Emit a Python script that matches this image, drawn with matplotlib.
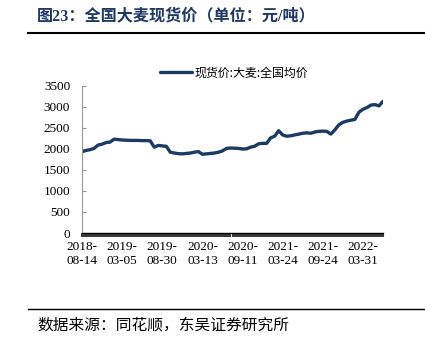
import matplotlib
matplotlib.use("Agg")
import matplotlib.pyplot as plt
from matplotlib.lines import Line2D
from matplotlib.ticker import MultipleLocator

title = "图23：全国大麦现货价（单位：元/吨）"
source = "数据来源：同花顺，东吴证券研究所"
series_name = "现货价:大麦:全国均价"

tick_labels = ["2018-\n08-14", "2019-\n03-05", "2019-\n08-30", "2020-\n03-13",
               "2020-\n09-11", "2021-\n03-24", "2021-\n09-24", "2022-\n03-31"]

prices = [1930, 1960, 1980, 2010, 2090, 2110, 2150, 2160, 2230, 2220,
          2210, 2205, 2200, 2200, 2200, 2195, 2195, 2190, 2040, 2080,
          2070, 2060, 1920, 1900, 1885, 1880, 1890, 1900, 1920, 1935,
          1870, 1880, 1890, 1900, 1920, 1950, 2010, 2020, 2015, 2010,
          1995, 2000, 2040, 2060, 2120, 2130, 2130, 2260, 2300, 2430,
          2330, 2300, 2310, 2330, 2350, 2370, 2380, 2370, 2400, 2415,
          2420, 2415, 2350, 2450, 2570, 2630, 2660, 2680, 2700, 2870,
          2940, 2980, 3040, 3050, 3020, 3130]

yticks = [0, 500, 1000, 1500, 2000, 2500, 3000, 3500]

W, H = 425, 339
fig = plt.figure(figsize=(W / 100, H / 100), dpi=100)
fig.patch.set_facecolor("white")

ax = fig.add_axes([82 / W, 1 - 233 / H, (383 - 82) / W, (233 - 85.7) / H])
x = list(range(len(prices)))
ln, = ax.plot(x, prices, color="#1c3a64", lw=2.4, solid_capstyle="round",
              solid_joinstyle="round", label=series_name)

ax.set_xlim(0, len(prices) - 1)
ax.set_ylim(0, 3500)
ax.set_yticks(yticks)
ax.set_xticks(list(range(0, 10 * len(tick_labels), 10)))
ax.set_xticklabels(tick_labels, linespacing=1.3)
ax.xaxis.set_minor_locator(MultipleLocator(0.5))

for s in ["top", "right"]:
    ax.spines[s].set_visible(False)
ax.spines["left"].set_color("#9a9a9a")
ax.spines["left"].set_linewidth(0.8)
ax.spines["bottom"].set_color("black")
ax.spines["bottom"].set_linewidth(1.0)

serif = ["Liberation Serif", "Noto Sans CJK SC"]
ax.tick_params(axis="x", which="both", direction="out", length=3, width=1.1,
               color="black", pad=2.5)
ax.tick_params(axis="y", direction="in", length=3, width=0.8, color="#9a9a9a",
               pad=8.5)
for lab in ax.get_xticklabels() + ax.get_yticklabels():
    lab.set_family(serif)
    lab.set_fontsize(9.5)
    lab.set_color("black")

fig.legend(handles=[ln], labels=[series_name], loc="center left",
           bbox_to_anchor=(160 / W, 1 - 73 / H), frameon=False,
           handlelength=2.7, handletextpad=0.2, borderpad=0, borderaxespad=0,
           prop={"family": ["Noto Sans CJK SC"], "size": 8.6})

fig.text(37 / W, 1 - 16 / H, title, ha="left", va="center",
         fontsize=11.6, fontweight="bold", color="#1f3864",
         family=["Liberation Serif", "Noto Sans CJK SC"])
fig.add_artist(Line2D([28 / W, 1], [1 - 33 / H, 1 - 33 / H], color="black",
                      lw=1.5, transform=fig.transFigure))
fig.add_artist(Line2D([28 / W, 1], [1 - 309 / H, 1 - 309 / H], color="black",
                      lw=1.0, transform=fig.transFigure))
fig.text(37 / W, 1 - 325 / H, source, ha="left", va="center", fontsize=11.3,
         color="black", family=["Noto Sans CJK SC"])

fig.savefig("out.png", dpi=100, facecolor="white")
